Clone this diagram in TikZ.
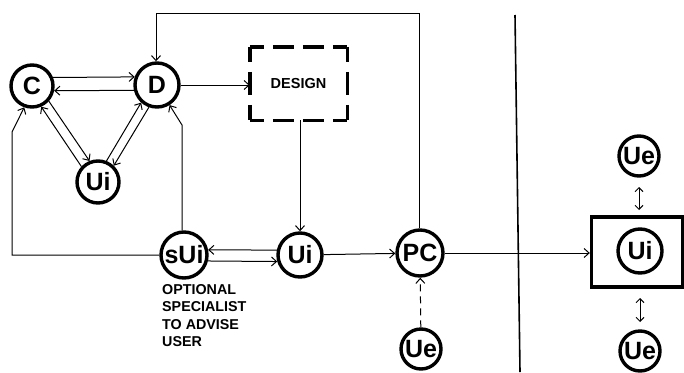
\documentclass[tikz,border=0pt]{standalone}
\usepackage{fontspec}
\setmainfont{Liberation Sans}
\usetikzlibrary{arrows.meta,calc}
\newcommand\lb[1]{\makebox[0pt]{#1}}
\begin{document}
\begin{tikzpicture}[x=1pt,y=-1pt,
  circ/.style={circle,draw,line width=3.4pt,minimum size=#1,inner sep=0pt,
    font=\fontsize{25}{25}\selectfont\bfseries},
  circ/.default=44,
  arr/.style={line width=1pt,-{Straight Barb[length=5pt,width=9pt,line width=1pt]}},
  darr/.style={line width=1pt,{Straight Barb[length=4pt,width=8pt,line width=1pt]}-{Straight Barb[length=4pt,width=8pt,line width=1pt]}},
  heavy/.style={line width=3.4pt,line cap=butt},
]
\useasboundingbox (0,0) rectangle (684,372);

% nodes
\node[circ=42] (C) at (32,86) {\lb{C}};
\node[circ=44] (D) at (157,85) {\lb{D}};
\node[circ=42] (Ui1) at (98,182) {\lb{Ui}};
\node[minimum width=97pt,minimum height=73pt,inner sep=0pt,font=\fontsize{14.5}{15}\selectfont\bfseries] (DES) at (298.5,83.5) {DESIGN};
\node[circ=46] (sUi) at (184,255) {\lb{sUi}};
\node[circ=44] (Ui2) at (300,255) {\lb{Ui}};
\node[circ=46] (PC) at (420,253) {\lb{PC}};
\node[circ=40] (Ue1) at (421,349) {\lb{Ue}};
\node[draw,line width=3.4pt,minimum width=91pt,minimum height=70pt,inner sep=0pt] (BOX) at (637,252) {};
\node[circ=44] (Ui3) at (640,251) {\lb{Ui}};
\node[circ=40] (Ue2) at (639,156) {\lb{Ue}};
\node[circ=40] (Ue3) at (640,351) {\lb{Ue}};
\node[anchor=north west,align=left,inner sep=0pt,font=\fontsize{14.3}{17.5}\selectfont\bfseries] (note) at (162,284) {OPTIONAL\\SPECIALIST\\TO ADVISE\\USER};

% dashed DESIGN box, drawn side by side so the corners stay solid
\draw[heavy,dash pattern=on 14pt off 9pt on 21pt off 9pt on 21pt off 9pt on 14pt] (DES.north west) -- (DES.north east);
\draw[heavy,dash pattern=on 14pt off 9pt on 21pt off 9pt on 21pt off 9pt on 14pt] (DES.south west) -- (DES.south east);
\draw[heavy,dash pattern=on 15pt off 10pt on 23pt off 10pt on 15pt] (DES.north west) -- (DES.south west);
\draw[heavy,dash pattern=on 15pt off 10pt on 23pt off 10pt on 15pt] (DES.north east) -- (DES.south east);

% coordinates for bends
\coordinate (L1) at (12,255);
\coordinate (L2) at (12,132);
\coordinate (R1) at (182,125);
\coordinate (T1) at (419,13);
\coordinate (T2) at (156,13);
\coordinate (V1) at (515,15);
\coordinate (V2) at (520,372);
\coordinate (a1) at (639,187);
\coordinate (a2) at (639,210);
\coordinate (b1) at (640,298);
\coordinate (b2) at (640,322);

% C <-> D
\draw[arr] (C.22) -- (D.160);
\draw[arr] (D.-167) -- (C.-12);
% C <-> Ui
\draw[arr] (Ui1.137) -- (C.-66);
\draw[arr] (C.-42) -- (Ui1.112);
% D <-> Ui
\draw[arr] (Ui1.68) -- (D.-132);
\draw[arr] (D.-110) -- (Ui1.46);
% D -> DESIGN
\draw[arr] (D) -- (D -| DES.west);
% DESIGN -> Ui2
\draw[arr] (DES.south -| Ui2) -- (Ui2.north);
% loops from sUi
\draw[arr] (sUi.west) -- (L1) -- (L2) -- (C.-110);
\draw[arr] (sUi.north -| R1) -- (R1) -- (D.-58);
% sUi <-> Ui2
\draw[arr] (Ui2.168) -- (sUi.12);
\draw[arr] (sUi.-14) -- (Ui2.-164);
% Ui2 -> PC -> box
\draw[arr] (Ui2) -- (PC);
\draw[arr] (PC) -- (PC -| BOX.west);
% PC -> top -> D
\draw[arr] (PC.north -| T1) -- (T1) -- (T2) -- (D.north -| T2);
% Ue -> PC dashed
\draw[arr,dash pattern=on 7pt off 5pt] (Ue1) -- (PC);
% separator
\draw[line width=1.6pt] (V1) -- (V2);
% Ue <-> box
\draw[darr] (a1) -- (a2);
\draw[darr] (b1) -- (b2);
\end{tikzpicture}
\end{document}
